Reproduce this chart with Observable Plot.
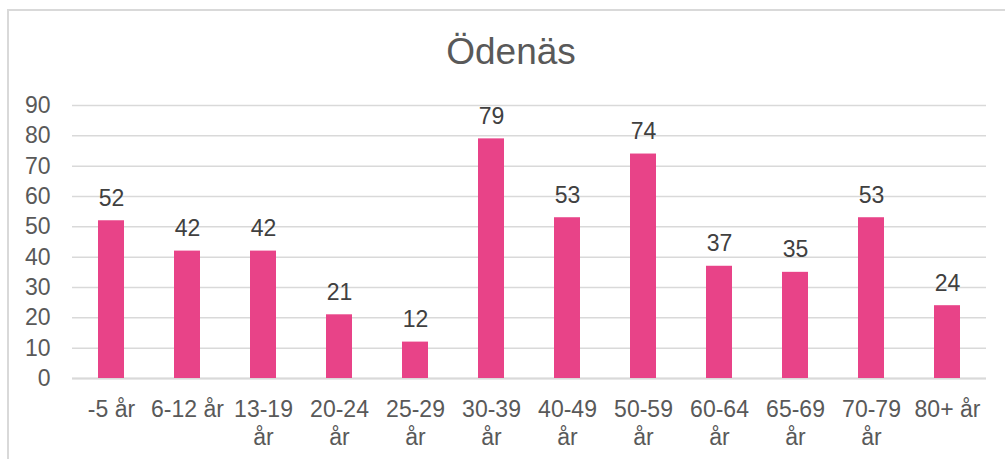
<!DOCTYPE html>
<html>
<head>
<meta charset="utf-8">
<script src="https://cdn.jsdelivr.net/npm/d3@7"></script>
<script src="https://cdn.jsdelivr.net/npm/@observablehq/plot@0.6"></script>
<style>
  body { margin: 0; background: #fff; }
  #wrap { position: relative; width: 1005px; height: 459px; overflow: hidden; background: #fff; font-family: "Liberation Sans", Arial, sans-serif; }
  #border { position: absolute; left: 7px; top: 9px; width: 1100px; height: 600px; border: 2px solid #d9d9d9; box-sizing: border-box; }
  #title { position: absolute; left: 511px; top: 32px; transform: translateX(-50%); font-size: 37px; line-height: 40px; color: #595959; white-space: nowrap; }
  #chart { position: absolute; left: 0; top: 90px; }
</style>
</head>
<body>
<div id="wrap">
  <div id="border"></div>
  <div id="title">Ödenäs</div>
  <div id="chart"></div>
</div>
<script>
const categories = ["-5 år", "6-12 år", "13-19 år", "20-24 år", "25-29 år", "30-39 år", "40-49 år", "50-59 år", "60-64 år", "65-69 år", "70-79 år", "80+ år"];
const tickLabels = ["-5 år", "6-12 år", "13-19\når", "20-24\når", "25-29\når", "30-39\når", "40-49\når", "50-59\når", "60-64\når", "65-69\når", "70-79\når", "80+ år"];
const values = [52, 42, 42, 21, 12, 79, 53, 74, 37, 35, 53, 24];
const yTicks = [0, 10, 20, 30, 40, 50, 60, 70, 80, 90];

const data = categories.map((c, i) => ({ category: c, value: values[i] }));
const labelOf = new Map(categories.map((c, i) => [c, tickLabels[i]]));

const chart = Plot.plot({
  width: 1005,
  height: 369,
  marginTop: 15,
  marginBottom: 81,
  marginLeft: 72,
  marginRight: 19,
  style: { color: "#595959", fontFamily: "'Liberation Sans', Arial, sans-serif", background: "transparent" },
  x: { domain: categories, paddingInner: 0.66, paddingOuter: 0.33, label: null },
  y: { domain: [0, 90], label: null },
  marks: [
    Plot.gridY(yTicks, { stroke: "#d9d9d9", strokeOpacity: 1, strokeWidth: 1.5 }),
    Plot.ruleY([0], { stroke: "#d9d9d9", strokeWidth: 2 }),
    Plot.barY(data, { x: "category", y: "value", fill: "#e84388" }),
    Plot.text(data, { x: "category", y: "value", text: d => String(d.value), lineAnchor: "bottom", dy: -15, fontSize: 23, fill: "#404040" }),
    Plot.axisY(yTicks, { tickSize: 0, tickPadding: 22, fontSize: 23, label: null, tickFormat: d => String(d) }),
    Plot.axisX({ tickSize: 0, tickPadding: 19, fontSize: 23, lineHeight: 1.2, label: null, tickFormat: d => labelOf.get(d) })
  ]
});
document.getElementById("chart").appendChild(chart);
</script>
</body>
</html>
